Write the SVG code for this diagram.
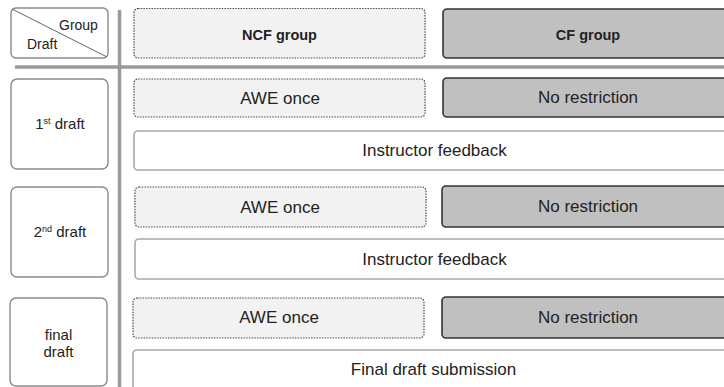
<svg xmlns="http://www.w3.org/2000/svg" width="724" height="387" viewBox="0 0 724 387">
  <style>
    text { font-family: "Liberation Sans", Arial, sans-serif; fill: #222; }
    .hdr { font-size: 14.5px; font-weight: bold; text-anchor: middle; }
    .lbl { font-size: 17px; text-anchor: middle; }
    .drf { font-size: 15px; text-anchor: middle; }
    .corner { font-size: 14px; }
    .sup { font-size: 9px; }
    .draftbox { fill: #fff; stroke: #8a8a8a; stroke-width: 1.4; }
    .awe { fill: #f2f2f2; stroke: #4a4a4a; stroke-width: 1.2; stroke-dasharray: 1.5 1.2; }
    .cf { fill: #c0c0c0; stroke: #333; stroke-width: 1.6; }
    .wide { fill: #fff; stroke: #a8a8a8; stroke-width: 1.6; }
    .sep { stroke: #9a9a9a; stroke-width: 3.5; fill: none; }
  </style>

  <rect width="724" height="387" fill="#fff"/>

  <!-- table separators -->
  <g id="connectors">
    <line class="sep" x1="119.5" y1="10" x2="119.5" y2="387"/>
    <line class="sep" x1="15" y1="67" x2="724" y2="67"/>
  </g>

  <!-- header corner cell -->
  <g id="corner">
    <rect class="draftbox" x="11" y="8" width="97" height="50" rx="5"/>
    <line x1="12" y1="9" x2="107" y2="57" stroke="#666" stroke-width="1"/>
    <text class="corner" x="59" y="30">Group</text>
    <text class="corner" x="27" y="49">Draft</text>
  </g>

  <!-- column headers -->
  <g id="ncf-header">
    <rect class="awe" x="134" y="8.5" width="291" height="49.5" rx="4"/>
    <text class="hdr" x="279.5" y="40">NCF group</text>
  </g>
  <g id="cf-header">
    <rect class="cf" x="443" y="9" width="292" height="49" rx="4"/>
    <text class="hdr" x="588" y="40">CF group</text>
  </g>

  <!-- 1st draft row -->
  <g id="draft1">
    <rect class="draftbox" x="11" y="79" width="97" height="90" rx="6"/>
    <text class="drf" x="60" y="129">1<tspan class="sup" dy="-5.5">st</tspan><tspan dy="5.5"> draft</tspan></text>
  </g>
  <g id="draft1-ncf">
    <rect class="awe" x="134" y="79" width="291" height="38" rx="4"/>
    <text class="lbl" x="280" y="104">AWE once</text>
  </g>
  <g id="draft1-cf">
    <rect class="cf" x="443" y="78" width="292" height="39" rx="4"/>
    <text class="lbl" x="588" y="103">No restriction</text>
  </g>
  <g id="draft1-feedback">
    <rect class="wide" x="134" y="131" width="601" height="39" rx="4"/>
    <text class="lbl" x="434.5" y="156">Instructor feedback</text>
  </g>

  <!-- 2nd draft row -->
  <g id="draft2">
    <rect class="draftbox" x="11" y="187" width="97" height="90" rx="6"/>
    <text class="drf" x="60" y="237">2<tspan class="sup" dy="-5.5">nd</tspan><tspan dy="5.5"> draft</tspan></text>
  </g>
  <g id="draft2-ncf">
    <rect class="awe" x="135" y="187" width="291" height="40" rx="4"/>
    <text class="lbl" x="280" y="213">AWE once</text>
  </g>
  <g id="draft2-cf">
    <rect class="cf" x="442" y="186" width="293" height="41" rx="4"/>
    <text class="lbl" x="588" y="212">No restriction</text>
  </g>
  <g id="draft2-feedback">
    <rect class="wide" x="135" y="239" width="600" height="40" rx="4"/>
    <text class="lbl" x="434.5" y="265">Instructor feedback</text>
  </g>

  <!-- final draft row -->
  <g id="draft3">
    <rect class="draftbox" x="10" y="298" width="97" height="88" rx="6"/>
    <text class="drf" x="58.5" y="340">final</text>
    <text class="drf" x="58.5" y="357">draft</text>
  </g>
  <g id="draft3-ncf">
    <rect class="awe" x="133" y="298" width="291" height="40" rx="4"/>
    <text class="lbl" x="279" y="323">AWE once</text>
  </g>
  <g id="draft3-cf">
    <rect class="cf" x="442" y="297" width="293" height="41" rx="4"/>
    <text class="lbl" x="588" y="323">No restriction</text>
  </g>
  <g id="final-submission">
    <rect class="wide" x="133" y="350" width="602" height="42" rx="4"/>
    <text class="lbl" x="433.5" y="375">Final draft submission</text>
  </g>
</svg>
